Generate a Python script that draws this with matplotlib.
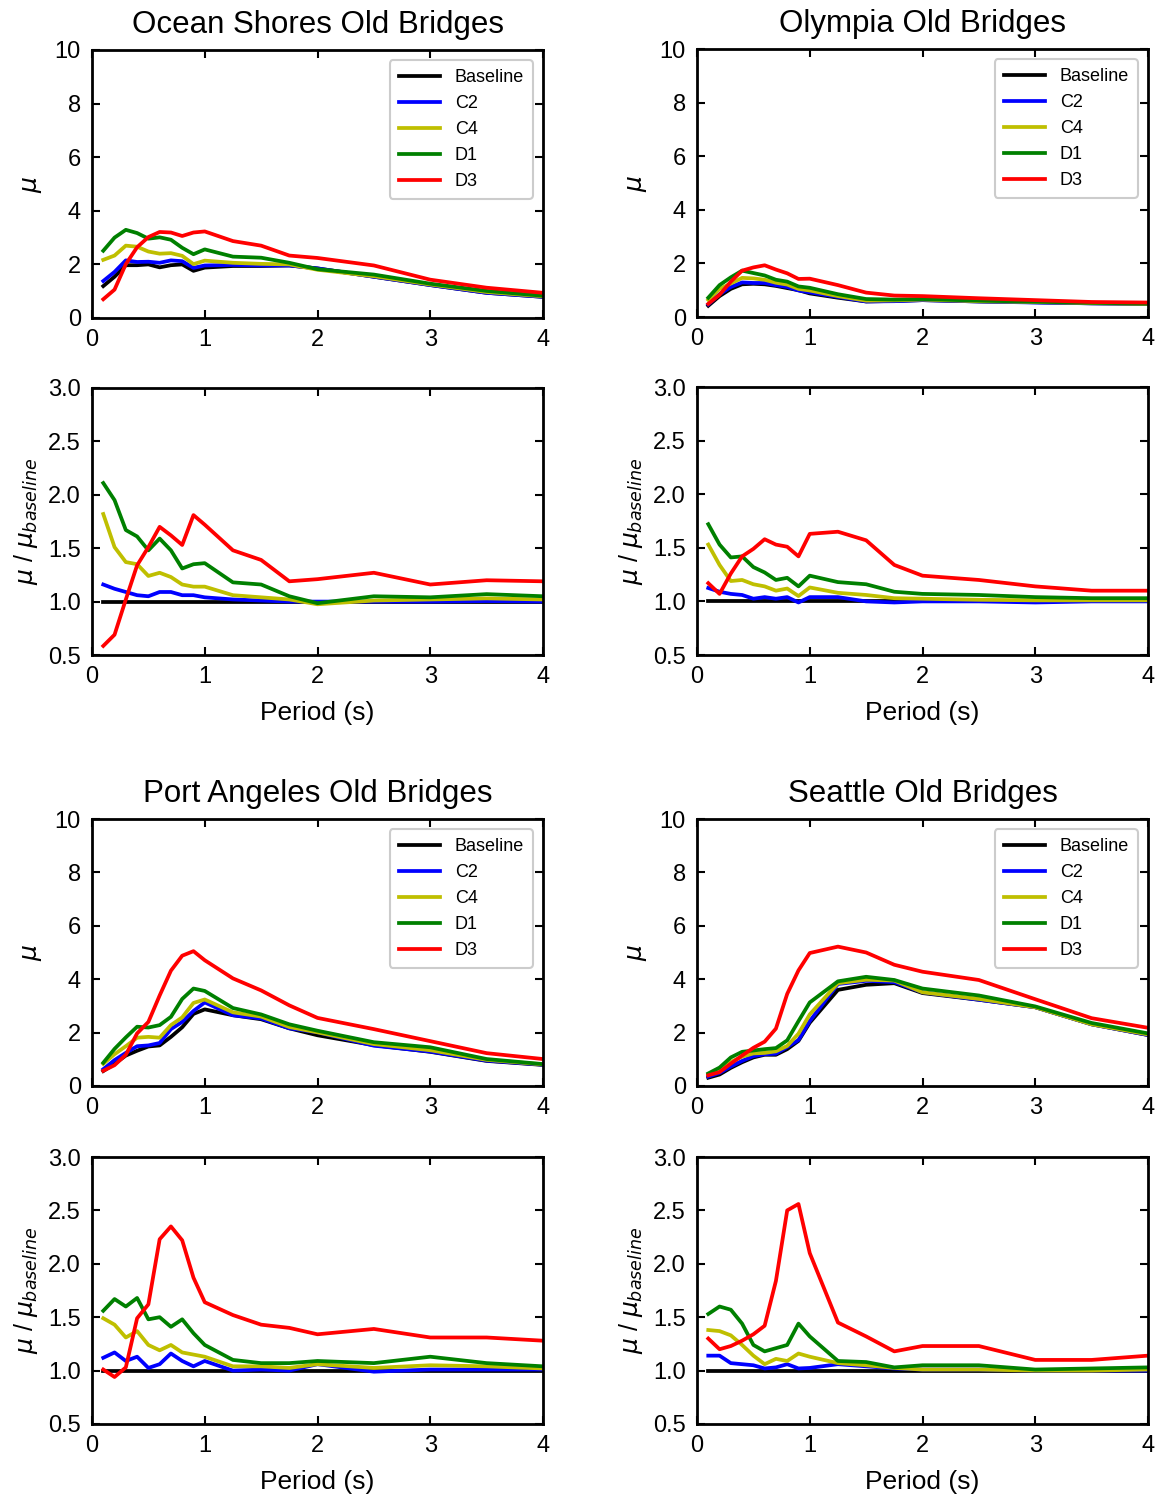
import matplotlib
matplotlib.use("Agg")
import matplotlib.pyplot as plt

plt.rcParams['font.family'] = ['Liberation Sans', 'DejaVu Sans']
plt.rcParams['mathtext.fontset'] = 'dejavusans'

periods = [0.1, 0.2, 0.3, 0.4, 0.5, 0.6, 0.7, 0.8, 0.9, 1.0,
           1.25, 1.5, 1.75, 2.0, 2.5, 3.0, 3.5, 4.0]

series_names = ['Baseline', 'C2', 'C4', 'D1', 'D3']
series_colors = ['k', 'b', 'y', 'g', 'r']

# Ocean Shores: ductility demand and ratio to baseline
ocean_mu_baseline = [1.19, 1.54, 1.97, 1.97, 2.00, 1.89, 1.97, 2.00, 1.76, 1.88, 1.94, 1.94, 1.96, 1.85, 1.54, 1.23, 0.94, 0.79]
ocean_mu_c2 = [1.38, 1.72, 2.15, 2.09, 2.10, 2.06, 2.15, 2.12, 1.87, 1.96, 1.98, 1.96, 1.96, 1.85, 1.54, 1.23, 0.94, 0.79]
ocean_mu_c4 = [2.17, 2.33, 2.70, 2.66, 2.48, 2.40, 2.42, 2.32, 2.01, 2.14, 2.06, 2.02, 2.00, 1.80, 1.56, 1.25, 0.97, 0.81]
ocean_mu_d1 = [2.51, 3.00, 3.29, 3.17, 2.96, 3.01, 2.92, 2.62, 2.38, 2.56, 2.29, 2.25, 2.06, 1.82, 1.62, 1.28, 1.01, 0.83]
ocean_mu_d3 = [0.70, 1.06, 2.01, 2.64, 3.02, 3.21, 3.19, 3.06, 3.19, 3.23, 2.87, 2.70, 2.33, 2.24, 1.96, 1.43, 1.13, 0.94]
ocean_ratio_c2 = [1.16, 1.12, 1.09, 1.06, 1.05, 1.09, 1.09, 1.06, 1.06, 1.04, 1.02, 1.01, 1.00, 1.00, 1.00, 1.00, 1.005, 1.00]
ocean_ratio_c4 = [1.82, 1.51, 1.37, 1.35, 1.24, 1.27, 1.23, 1.16, 1.14, 1.14, 1.06, 1.04, 1.02, 0.975, 1.01, 1.02, 1.03, 1.02]
ocean_ratio_d1 = [2.11, 1.95, 1.67, 1.61, 1.48, 1.59, 1.48, 1.31, 1.35, 1.36, 1.18, 1.16, 1.05, 0.985, 1.05, 1.04, 1.07, 1.05]
ocean_ratio_d3 = [0.585, 0.69, 1.02, 1.34, 1.51, 1.70, 1.62, 1.53, 1.81, 1.72, 1.48, 1.39, 1.19, 1.21, 1.27, 1.16, 1.20, 1.19]

# Olympia
olympia_mu_baseline = [0.42, 0.78, 1.05, 1.22, 1.24, 1.22, 1.16, 1.08, 1.00, 0.88, 0.72, 0.58, 0.60, 0.63, 0.58, 0.55, 0.51, 0.49]
olympia_mu_c2 = [0.47, 0.85, 1.12, 1.29, 1.27, 1.27, 1.19, 1.12, 0.99, 0.92, 0.75, 0.58, 0.59, 0.63, 0.58, 0.54, 0.51, 0.49]
olympia_mu_c4 = [0.64, 1.05, 1.25, 1.46, 1.44, 1.39, 1.28, 1.21, 1.05, 0.99, 0.78, 0.61, 0.62, 0.65, 0.59, 0.56, 0.52, 0.49]
olympia_mu_d1 = [0.72, 1.19, 1.48, 1.73, 1.64, 1.55, 1.39, 1.32, 1.14, 1.09, 0.85, 0.67, 0.65, 0.67, 0.61, 0.57, 0.53, 0.50]
olympia_mu_d3 = [0.49, 0.83, 1.32, 1.73, 1.85, 1.93, 1.77, 1.63, 1.42, 1.43, 1.19, 0.91, 0.80, 0.78, 0.70, 0.63, 0.56, 0.54]
olympia_ratio_c2 = [1.125, 1.09, 1.07, 1.06, 1.025, 1.04, 1.025, 1.04, 0.99, 1.04, 1.04, 1.00, 0.99, 1.00, 1.00, 0.99, 1.00, 1.00]
olympia_ratio_c4 = [1.53, 1.34, 1.19, 1.20, 1.16, 1.14, 1.10, 1.12, 1.05, 1.13, 1.08, 1.06, 1.03, 1.025, 1.015, 1.01, 1.01, 1.01]
olympia_ratio_d1 = [1.72, 1.53, 1.41, 1.42, 1.32, 1.27, 1.20, 1.22, 1.14, 1.24, 1.18, 1.16, 1.09, 1.07, 1.06, 1.04, 1.03, 1.03]
olympia_ratio_d3 = [1.17, 1.07, 1.26, 1.42, 1.49, 1.58, 1.53, 1.51, 1.42, 1.63, 1.65, 1.57, 1.34, 1.24, 1.20, 1.14, 1.10, 1.10]

# Port Angeles
port_mu_baseline = [0.56, 0.83, 1.14, 1.32, 1.48, 1.52, 1.84, 2.20, 2.70, 2.87, 2.65, 2.50, 2.16, 1.90, 1.53, 1.28, 0.94, 0.79]
port_mu_c2 = [0.63, 0.97, 1.24, 1.49, 1.52, 1.61, 2.13, 2.40, 2.81, 3.13, 2.65, 2.53, 2.16, 2.01, 1.51, 1.29, 0.95, 0.80]
port_mu_c4 = [0.83, 1.19, 1.49, 1.81, 1.84, 1.81, 2.28, 2.57, 3.11, 3.24, 2.76, 2.60, 2.21, 2.01, 1.57, 1.34, 0.98, 0.81]
port_mu_d1 = [0.87, 1.39, 1.82, 2.22, 2.19, 2.28, 2.59, 3.26, 3.65, 3.56, 2.92, 2.68, 2.31, 2.07, 1.64, 1.45, 1.01, 0.82]
port_mu_d3 = [0.57, 0.78, 1.17, 1.97, 2.40, 3.39, 4.32, 4.88, 5.05, 4.71, 4.03, 3.58, 3.02, 2.55, 2.13, 1.68, 1.23, 1.01]
port_ratio_c2 = [1.12, 1.17, 1.09, 1.13, 1.025, 1.06, 1.16, 1.09, 1.04, 1.09, 1.00, 1.01, 1.00, 1.06, 0.99, 1.01, 1.01, 1.01]
port_ratio_c4 = [1.49, 1.43, 1.31, 1.37, 1.24, 1.19, 1.24, 1.17, 1.15, 1.13, 1.04, 1.04, 1.025, 1.06, 1.025, 1.05, 1.04, 1.02]
port_ratio_d1 = [1.56, 1.67, 1.60, 1.68, 1.48, 1.50, 1.41, 1.48, 1.35, 1.24, 1.10, 1.07, 1.07, 1.09, 1.07, 1.13, 1.07, 1.04]
port_ratio_d3 = [1.01, 0.94, 1.03, 1.49, 1.62, 2.23, 2.35, 2.22, 1.87, 1.64, 1.52, 1.43, 1.40, 1.34, 1.39, 1.31, 1.31, 1.28]

# Seattle
seattle_mu_baseline = [0.31, 0.43, 0.68, 0.89, 1.07, 1.17, 1.17, 1.38, 1.69, 2.37, 3.60, 3.79, 3.85, 3.48, 3.23, 2.95, 2.31, 1.91]
seattle_mu_c2 = [0.35, 0.49, 0.73, 0.94, 1.12, 1.19, 1.21, 1.46, 1.72, 2.43, 3.82, 3.94, 3.89, 3.51, 3.23, 2.95, 2.31, 1.91]
seattle_mu_c4 = [0.43, 0.59, 0.90, 1.10, 1.22, 1.24, 1.30, 1.50, 1.96, 2.68, 3.85, 3.98, 3.95, 3.51, 3.26, 2.95, 2.31, 1.93]
seattle_mu_d1 = [0.47, 0.69, 1.07, 1.28, 1.33, 1.38, 1.42, 1.71, 2.43, 3.13, 3.92, 4.09, 3.97, 3.65, 3.39, 2.98, 2.36, 1.97]
seattle_mu_d3 = [0.40, 0.52, 0.84, 1.14, 1.43, 1.66, 2.15, 3.45, 4.33, 4.98, 5.22, 5.00, 4.54, 4.28, 3.97, 3.25, 2.54, 2.18]
seattle_ratio_c2 = [1.14, 1.14, 1.07, 1.06, 1.05, 1.02, 1.03, 1.06, 1.02, 1.025, 1.06, 1.04, 1.02, 1.01, 1.01, 1.00, 1.00, 1.00]
seattle_ratio_c4 = [1.38, 1.37, 1.33, 1.24, 1.14, 1.06, 1.11, 1.09, 1.16, 1.13, 1.07, 1.05, 1.025, 1.01, 1.01, 1.00, 1.00, 1.01]
seattle_ratio_d1 = [1.53, 1.60, 1.57, 1.44, 1.24, 1.18, 1.21, 1.24, 1.44, 1.32, 1.09, 1.08, 1.03, 1.05, 1.05, 1.01, 1.02, 1.03]
seattle_ratio_d3 = [1.30, 1.20, 1.23, 1.28, 1.34, 1.42, 1.84, 2.50, 2.56, 2.10, 1.45, 1.32, 1.18, 1.23, 1.23, 1.10, 1.10, 1.14]

sites = [
    ('Ocean Shores Old Bridges',
     [ocean_mu_baseline, ocean_mu_c2, ocean_mu_c4, ocean_mu_d1, ocean_mu_d3],
     [ocean_ratio_c2, ocean_ratio_c4, ocean_ratio_d1, ocean_ratio_d3]),
    ('Olympia Old Bridges',
     [olympia_mu_baseline, olympia_mu_c2, olympia_mu_c4, olympia_mu_d1, olympia_mu_d3],
     [olympia_ratio_c2, olympia_ratio_c4, olympia_ratio_d1, olympia_ratio_d3]),
    ('Port Angeles Old Bridges',
     [port_mu_baseline, port_mu_c2, port_mu_c4, port_mu_d1, port_mu_d3],
     [port_ratio_c2, port_ratio_c4, port_ratio_d1, port_ratio_d3]),
    ('Seattle Old Bridges',
     [seattle_mu_baseline, seattle_mu_c2, seattle_mu_c4, seattle_mu_d1, seattle_mu_d3],
     [seattle_ratio_c2, seattle_ratio_c4, seattle_ratio_d1, seattle_ratio_d3]),
]

W, H = 1159, 1500
fig = plt.figure(figsize=(W / 100, H / 100), dpi=100)

# panel frames in pixels: (left, right, mu_top, mu_bottom, ratio_top, ratio_bottom)
frames = [
    (92, 543, 50, 318, 388, 655),
    (697, 1148, 49, 317, 387, 655),
    (92, 543, 819, 1086, 1157, 1424),
    (697, 1148, 819, 1086, 1157, 1424),
]


def px_axes(l, r, t, b):
    return fig.add_axes([l / W, 1 - b / H, (r - l) / W, (b - t) / H])


def style(ax):
    for sp in ax.spines.values():
        sp.set_linewidth(2.0)
    ax.tick_params(direction='in', top=True, right=True, length=6, width=1.5,
                   labelsize=17, pad=8)
    ax.set_xlim(0, 4)
    ax.set_xticks([0, 1, 2, 3, 4])


LW = 2.7
for (title, mu_list, ratio_list), (l, r, t1, b1, t2, b2) in zip(sites, frames):
    ax1 = px_axes(l, r, t1, b1)
    style(ax1)
    for name, col, vals in zip(series_names, series_colors, mu_list):
        ax1.plot(periods, vals, color=col, lw=LW, label=name)
    ax1.set_ylim(0, 10)
    ax1.set_yticks([0, 2, 4, 6, 8, 10])
    ax1.set_ylabel(r'$\mu$', fontsize=18, labelpad=8)
    ax1.set_title(title, fontsize=22.5, pad=12)
    leg = ax1.legend(loc='upper right', fontsize=13, handlelength=2.3,
                     handletextpad=0.8, borderpad=0.5, labelspacing=0.5,
                     framealpha=1.0, edgecolor='#cccccc', fancybox=True,
                     borderaxespad=0.55)
    leg.get_frame().set_linewidth(1.5)

    ax2 = px_axes(l, r, t2, b2)
    style(ax2)
    ax2.plot(periods, [1.0] * len(periods), color='k', lw=LW)
    for col, vals in zip(series_colors[1:], ratio_list):
        ax2.plot(periods, vals, color=col, lw=LW)
    ax2.set_ylim(0.5, 3.0)
    ax2.set_yticks([0.5, 1.0, 1.5, 2.0, 2.5, 3.0])
    ax2.set_ylabel(r'$\mu$ / $\mu_{baseline}$', fontsize=18, labelpad=6)
    ax2.set_xlabel('Period (s)', fontsize=19, labelpad=9)

fig.savefig('out.png', dpi=100)
